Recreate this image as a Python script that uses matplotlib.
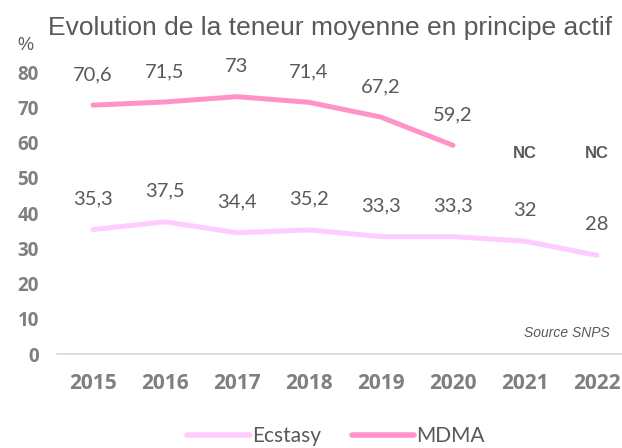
import matplotlib.pyplot as plt

# data
years = ["2015", "2016", "2017", "2018", "2019", "2020", "2021", "2022"]
ecstasy = [35.3, 37.5, 34.4, 35.2, 33.3, 33.3, 32, 28]
mdma = [70.6, 71.5, 73, 71.4, 67.2, 59.2]
nc_years = ["2021", "2022"]
nc_level = 57
yticks = [0, 10, 20, 30, 40, 50, 60, 70, 80]

grey_txt = "#595959"
grey_tick = "#7f7f7f"
col_ecstasy = "#ffccff"
col_mdma = "#ff93c9"

fig = plt.figure(figsize=(6.22, 4.48), dpi=100)
ax = fig.add_axes([57 / 622, 1 - 354 / 448, 576 / 622, 282 / 448])

x_all = list(range(len(years)))
ax.plot(x_all, ecstasy, color=col_ecstasy, lw=3.6, solid_capstyle="round",
        label="Ecstasy")
ax.plot(x_all[:len(mdma)], mdma, color=col_mdma, lw=3.6,
        solid_capstyle="round", label="MDMA")

def fmt(v):
    s = ("%g" % v)
    return s.replace(".", ",")

for i, v in enumerate(ecstasy):
    ax.annotate(fmt(v), (i, v), xytext=(0, 22), textcoords="offset points",
                ha="center", va="center", fontsize=14.5, family="Lato",
                color=grey_txt, annotation_clip=False)
for i, v in enumerate(mdma):
    ax.annotate(fmt(v), (i, v), xytext=(0, 22), textcoords="offset points",
                ha="center", va="center", fontsize=14.5, family="Lato",
                color=grey_txt, annotation_clip=False)
for y in nc_years:
    ax.text(years.index(y), nc_level, "NC", ha="center", va="center",
            fontsize=12, fontweight="bold", family="Liberation Sans",
            color=grey_txt)

ax.set_xlim(-0.5, len(years) - 0.5)
ax.set_ylim(0, 80)
ax.set_xticks(x_all)
ax.set_xticklabels(years, fontsize=15, fontweight="bold", family="Open Sans",
                   color=grey_tick)
ax.set_yticks(yticks)
ax.set_yticklabels([str(t) for t in yticks], fontsize=13.5, fontweight="bold",
                   family="Open Sans", color=grey_tick)
ax.tick_params(length=0)
ax.tick_params(axis="x", pad=14)
ax.tick_params(axis="y", pad=13)
for s in ["top", "right", "left"]:
    ax.spines[s].set_visible(False)
ax.spines["bottom"].set_color("#d9d9d9")
ax.spines["bottom"].set_linewidth(1.2)

fig.text(330 / 622, 1 - 28 / 448, "Evolution de la teneur moyenne en principe actif",
         ha="center", va="center", fontsize=19, family="Liberation Sans",
         color=grey_txt)
fig.text(25 / 622, 1 - 46 / 448, "%", ha="center", va="center", fontsize=13,
         family="Liberation Sans", color=grey_txt)
fig.text(610 / 622, 1 - 333 / 448, "Source SNPS", ha="right", va="center",
         fontsize=10, style="italic", family="Liberation Sans", color=grey_txt)

leg = fig.legend(loc="center", bbox_to_anchor=(336 / 622, 1 - 436 / 448),
                 ncol=2, frameon=False, prop={"family": "Lato", "size": 15},
                 handlelength=3, handletextpad=0.1, columnspacing=1.5)
for t in leg.get_texts():
    t.set_color(grey_txt)
for h in leg.get_lines():
    h.set_linewidth(4)
    h.set_solid_capstyle("round")

fig.savefig("out.png", dpi=100)
